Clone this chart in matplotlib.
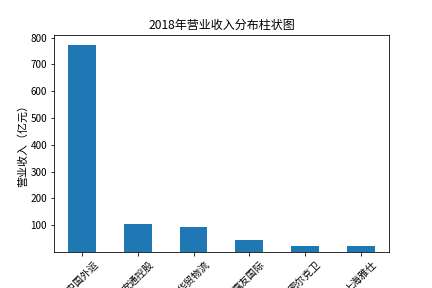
import numpy as np
import matplotlib
matplotlib.use('Agg')
import matplotlib.pyplot as plt

plt.rcParams['font.family'] = ['Noto Sans CJK SC', 'DejaVu Sans']
plt.rcParams['axes.unicode_minus'] = False

# 2018 revenue data (100 million yuan)
companies = ['中国外运', '安通控股', '华贸物流', '嘉友国际', '密尔克卫', '上海雅仕']
revenue = [773, 103, 95, 43, 21, 21]

fig, ax = plt.subplots(figsize=(6, 4), dpi=72)
x = np.arange(len(companies))
ax.bar(x, revenue, width=0.5, color='#1f77b4')

ax.set_xticks(x)
ax.set_xticklabels(companies, rotation=45)
ax.set_xlim(-0.5, len(companies) - 0.5)
ax.set_ylim(0, 811)
ax.set_yticks([100, 200, 300, 400, 500, 600, 700, 800])

ax.set_title('2018年营业收入分布柱状图')
ax.set_ylabel('营业收入（亿元）', fontsize=11, labelpad=2)

fig.subplots_adjust(left=0.125, right=0.9, top=0.88, bottom=0.125)
fig.savefig('out.png')
